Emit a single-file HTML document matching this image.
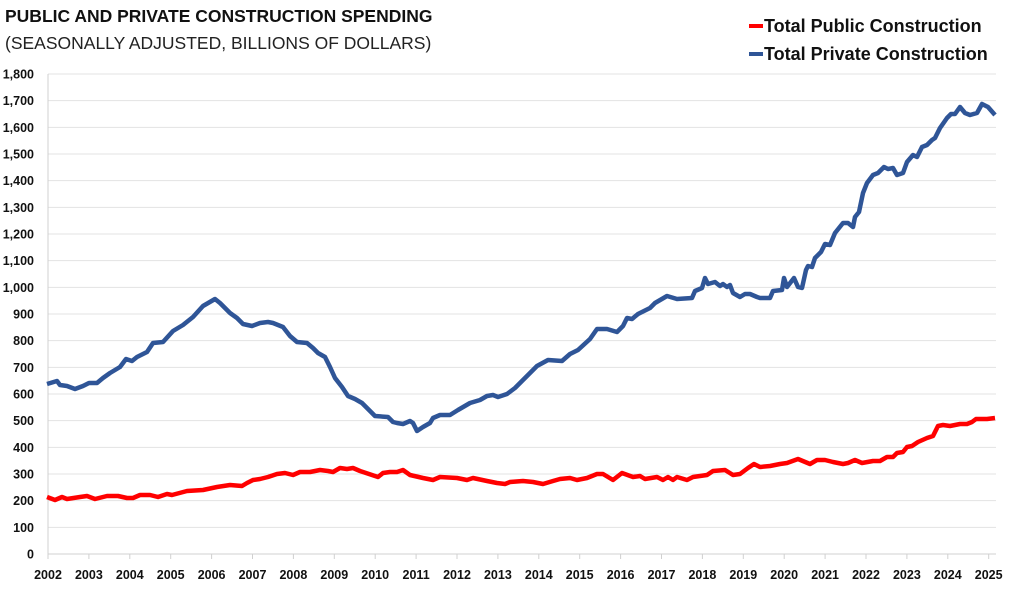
<!DOCTYPE html>
<html><head><meta charset="utf-8"><style>
body{margin:0;background:#fff;}
svg{display:block;font-family:"Liberation Sans",Arial,sans-serif;}
</style></head><body>
<svg width="1024" height="598" viewBox="0 0 1024 598" xmlns="http://www.w3.org/2000/svg">
<text x="5" y="22" font-size="17.5" font-weight="bold" fill="#111">PUBLIC AND PRIVATE CONSTRUCTION SPENDING</text>
<text x="5" y="49" font-size="17.5" fill="#222">(SEASONALLY ADJUSTED, BILLIONS OF DOLLARS)</text>
<line x1="749" y1="26" x2="763" y2="26" stroke="#ff0000" stroke-width="4"/>
<text x="764" y="32" font-size="18" font-weight="bold" fill="#111">Total Public Construction</text>
<line x1="749" y1="54" x2="763" y2="54" stroke="#2f5597" stroke-width="4"/>
<text x="764" y="60" font-size="18" font-weight="bold" fill="#111">Total Private Construction</text>
<g id="grid" stroke="#e3e3e3" stroke-width="1"></g>
<g id="ylab" font-size="12.5" font-weight="bold" fill="#111" text-anchor="end"></g>
<g id="xlab" font-size="12.5" font-weight="bold" fill="#111" text-anchor="middle"></g>
<line x1="48" y1="74" x2="48" y2="554" stroke="#d0d0d0"/>
<line x1="48" y1="554" x2="996" y2="554" stroke="#d0d0d0"/>
<polyline id="red" fill="none" stroke="#ff0000" stroke-width="4.5" stroke-linejoin="round" points="47,497 55,500 62,497 67,499 80,497 87,496 95,499 107,496 118,496 127,498 133,498 140,495 150,495 158,497 167,494 172,495 187,491 203,490 217,487 230,485 242,486 247,483 253,480 260,479 268,477 277,474 285,473 293,475 300,472 310,472 320,470 328,471 333,472 340,468 347,469 353,468 360,471 378,477 383,473 390,472 397,472 403,470 410,475 423,478 433,480 440,477 457,478 467,480 473,478 487,481 497,483 505,484 510,482 523,481 533,482 543,484 553,481 560,479 570,478 577,480 587,478 597,474 603,474 613,480 622,473 633,477 640,476 645,479 657,477 663,480 668,477 673,480 677,477 687,480 693,477 707,475 713,471 725,470 733,475 740,474 748,468 754,464 760,467 770,466 780,464 787,463 798,459 810,464 817,460 825,460 833,462 843,464 848,463 855,460 862,463 873,461 880,461 887,457 893,457 897,453 903,452 907,447 912,446 918,442 927,438 933,436 938,426 943,425 950,426 960,424 967,424 972,422 976,419 987,419 995,418"/>
<polyline id="blue" fill="none" stroke="#2f5597" stroke-width="4.5" stroke-linejoin="round" points="47,384 57,381 60,385 67,386 75,389 83,386 89,383 97,383 103,378 110,373 120,367 126,359 132,361 137,357 147,352 153,343 163,342 173,331 183,325 193,317 203,306 215,299 220,303 230,313 237,318 243,324 252,326 260,323 268,322 273,323 283,327 290,336 297,342 307,343 313,348 318,353 325,357 330,367 335,378 342,387 348,396 355,399 362,403 368,409 375,416 388,417 393,422 397,423 403,424 410,421 413,423 417,431 423,427 430,423 433,418 440,415 450,415 458,410 470,403 480,400 487,396 493,395 498,397 507,394 515,388 520,383 525,378 537,366 548,360 562,361 570,354 578,350 590,339 597,329 607,329 617,332 623,326 627,318 632,319 638,314 650,308 655,303 667,296 677,299 692,298 695,291 702,288 705,278 708,284 715,282 720,286 723,284 727,287 730,285 733,293 740,297 745,294 750,294 757,297 760,298 770,298 773,291 782,290 784,278 787,287 794,278 798,287 802,288 806,270 808,266 812,267 815,258 821,252 825,244 830,245 835,233 843,223 848,223 853,227 855,217 859,212 863,193 867,183 873,175 878,173 884,167 888,169 893,168 897,175 903,173 907,162 913,155 917,157 922,147 927,145 932,140 935,138 940,128 947,118 951,114 955,114 960,107 965,113 970,115 977,113 982,104 988,107 995,115"/>
<script>
var ns="http://www.w3.org/2000/svg";
var g=document.getElementById("grid"),yl=document.getElementById("ylab"),xl=document.getElementById("xlab");
for(var k=1;k<=18;k++){var y=554-k*26.667;var l=document.createElementNS(ns,"line");l.setAttribute("x1",48);l.setAttribute("x2",996);l.setAttribute("y1",y);l.setAttribute("y2",y);g.appendChild(l);}
for(var k=0;k<=18;k++){var y=554-k*26.667;var t=document.createElementNS(ns,"text");t.setAttribute("x",34);t.setAttribute("y",y+4.5);var v=k*100;t.textContent=v>=1000?(Math.floor(v/1000)+","+String(v%1000).padStart(3,"0")):String(v);yl.appendChild(t);}
for(var i=0;i<=23;i++){var x=48+i*40.9;var l=document.createElementNS(ns,"line");l.setAttribute("x1",x);l.setAttribute("x2",x);l.setAttribute("y1",554);l.setAttribute("y2",559);l.setAttribute("stroke","#d0d0d0");g.appendChild(l);var t=document.createElementNS(ns,"text");t.setAttribute("x",x);t.setAttribute("y",579);t.textContent=2002+i;xl.appendChild(t);}
</script>
</svg>
</body></html>
